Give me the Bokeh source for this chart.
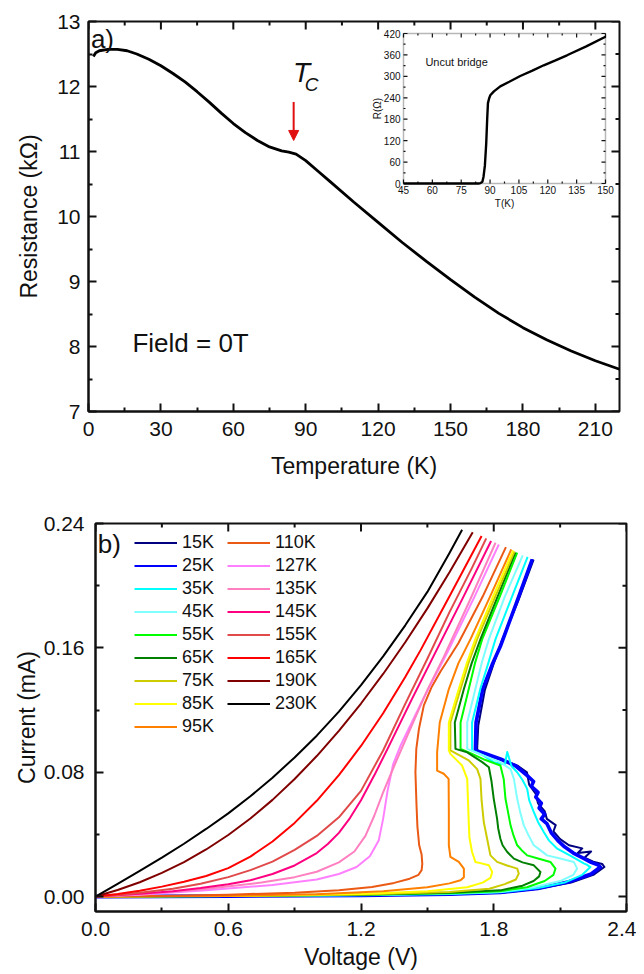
import math
from bokeh.plotting import figure
from bokeh.models import (FixedTicker, Range1d, Legend, LegendItem, Label, Arrow,
                          NormalHead, PrintfTickFormatter, BoxAnnotation)
from bokeh.embed import file_html
from bokeh.resources import INLINE
from bokeh.core.properties import value

FONT = "Liberation Sans"
RED = "#E01010"
INK = "#111111"

# ---------------- panel a data ----------------
T_main = [2.0, 3.0, 4.5, 8, 12, 16, 20, 25, 30, 35, 40, 45, 50, 55, 60, 65, 70, 75,
          80, 83, 86, 90, 95, 100, 110, 120, 130, 140, 150, 160, 170, 180, 190, 200,
          210, 220]
R_main = [12.46, 12.52, 12.55, 12.57, 12.57, 12.55, 12.50, 12.42, 12.32, 12.20, 12.07,
          11.92, 11.76, 11.59, 11.43, 11.29, 11.17, 11.07, 11.01, 10.99, 10.96, 10.86,
          10.70, 10.54, 10.22, 9.91, 9.60, 9.31, 9.03, 8.76, 8.51, 8.29, 8.10, 7.93,
          7.78, 7.65]
Tc_value = 85.0

T_inset = [45, 60, 75, 84, 85, 86, 86.6, 87.3, 88, 88.5, 88.9, 89.5, 90.1, 92, 95.3,
           100, 105.7, 112, 117.9, 124, 130, 140, 150]
R_inset = [0, 0, 0, 0, 1, 5, 19, 50, 112, 180, 225, 238, 247, 258, 272, 285, 301, 316,
           331, 345, 359, 384, 411]

a_xticks = [0, 30, 60, 90, 120, 150, 180, 210]
a_xminor = [15, 45, 75, 105, 135, 165, 195]
a_yticks = [7, 8, 9, 10, 11, 12, 13]
a_yminor = [7.5, 8.5, 9.5, 10.5, 11.5, 12.5]
in_xticks = [45, 60, 75, 90, 105, 120, 135, 150]
in_xminor = [52.5, 67.5, 82.5, 97.5, 112.5, 127.5, 142.5]
in_yticks = [0, 60, 120, 180, 240, 300, 360, 420]
in_yminor = [30, 90, 150, 210, 270, 330, 390]

# ---------------- panel b data ----------------
labels_b = ["15K", "25K", "35K", "45K", "55K", "65K", "75K", "85K", "95K",
            "110K", "127K", "135K", "145K", "155K", "165K", "190K", "230K"]
colors_b = ["#000080", "#0000FF", "#00FFFF", "#80FFFF", "#00FF00", "#008000",
            "#CCCC00", "#FFFF00", "#FF8000", "#EB5A14", "#FF80FF", "#FF80C0",
            "#FF0080", "#E04A4A", "#FF0000", "#800000", "#000000"]

V_15 = [0, 0.6, 1.2, 1.6, 1.83, 2.0, 2.15, 2.25, 2.30, 2.29, 2.25, 2.21, 2.24, 2.18,
        2.20, 2.14, 2.10, 2.07, 2.08, 2.04, 2.03, 2.00, 1.99, 1.96, 1.95, 1.91, 1.86,
        1.79, 1.73, 1.725, 1.73, 1.76, 1.80, 1.84, 1.91, 1.98]
I_15 = [0, 0.0003, 0.0008, 0.0015, 0.0025, 0.005, 0.009, 0.014, 0.019, 0.021, 0.0225,
        0.025, 0.029, 0.028, 0.031, 0.033, 0.037, 0.042, 0.046, 0.050, 0.055, 0.060,
        0.066, 0.072, 0.080, 0.084, 0.087, 0.090, 0.093, 0.095, 0.110, 0.133, 0.150,
        0.166, 0.190, 0.2167]
V_25 = [0, 0.6, 1.2, 1.6, 1.83, 2.0, 2.14, 2.24, 2.282, 2.27, 2.24, 2.20, 2.16, 2.12,
        2.09, 2.06, 2.04, 2.015, 2.03, 2.005, 2.015, 1.99, 2.0, 1.97, 1.98, 1.95, 1.90,
        1.83, 1.76, 1.717, 1.72, 1.75, 1.795, 1.83, 1.90, 1.974]
I_25 = [0, 0.0003, 0.0008, 0.0015, 0.0026, 0.0052, 0.0095, 0.0145, 0.019, 0.0205, 0.022,
        0.025, 0.028, 0.032, 0.036, 0.041, 0.047, 0.050, 0.053, 0.057, 0.060, 0.064,
        0.067, 0.071, 0.074, 0.078, 0.084, 0.0885, 0.092, 0.094, 0.112, 0.1335, 0.150,
        0.161, 0.188, 0.217]
V_35 = [0, 0.6, 1.2, 1.6, 1.83, 2.0, 2.12, 2.2, 2.237, 2.22, 2.207, 2.15, 2.087, 2.05,
        2.026, 2.0, 1.981, 1.96, 1.951, 1.93, 1.906, 1.88, 1.861, 1.85, 1.80, 1.75,
        1.702, 1.702, 1.74, 1.775, 1.808, 1.88, 1.953]
I_35 = [0, 0.0003, 0.0009, 0.0017, 0.0028, 0.0055, 0.009, 0.014, 0.019, 0.0205, 0.0214,
        0.026, 0.0308, 0.036, 0.0416, 0.048, 0.0544, 0.062, 0.0693, 0.075, 0.080, 0.084,
        0.093, 0.085, 0.0865, 0.091, 0.094, 0.112, 0.134, 0.150, 0.1656, 0.192, 0.2186]
V_45 = [0, 0.6, 1.2, 1.6, 1.83, 1.98, 2.1, 2.16, 2.177, 2.162, 2.10, 2.041, 2.0, 1.981,
        1.955, 1.936, 1.92, 1.906, 1.891, 1.876, 1.83, 1.75, 1.68, 1.68, 1.717, 1.745,
        1.778, 1.85, 1.931]
I_45 = [0, 0.0003, 0.001, 0.002, 0.003, 0.006, 0.010, 0.014, 0.018, 0.0223, 0.0245,
        0.0265, 0.031, 0.033, 0.040, 0.0458, 0.054, 0.0629, 0.0757, 0.082, 0.0865, 0.091,
        0.095, 0.112, 0.1335, 0.150, 0.1656, 0.193, 0.2195]
V_55 = [0, 0.6, 1.2, 1.6, 1.83, 1.95, 2.03, 2.07, 2.079, 2.056, 2.0, 1.951, 1.925, 1.906,
        1.89, 1.876, 1.865, 1.853, 1.845, 1.83, 1.76, 1.70, 1.65, 1.65, 1.687, 1.715,
        1.748, 1.83, 1.906]
I_55 = [0, 0.0004, 0.0011, 0.0022, 0.0035, 0.006, 0.010, 0.014, 0.018, 0.0223, 0.0245,
        0.0265, 0.030, 0.033, 0.039, 0.0458, 0.054, 0.0629, 0.0757, 0.0843, 0.088, 0.092,
        0.095, 0.112, 0.1335, 0.150, 0.1656, 0.194, 0.2212]
V_65 = [0, 0.6, 1.2, 1.6, 1.83, 1.93, 1.98, 2.005, 2.011, 1.981, 1.93, 1.891, 1.861,
        1.84, 1.83, 1.82, 1.815, 1.80, 1.79, 1.778, 1.748, 1.68, 1.627, 1.624, 1.665,
        1.70, 1.74, 1.82, 1.898]
I_65 = [0, 0.0004, 0.0012, 0.0025, 0.004, 0.007, 0.010, 0.013, 0.0158, 0.0201, 0.022,
        0.0244, 0.0287, 0.033, 0.0372, 0.044, 0.0501, 0.0629, 0.074, 0.0832, 0.0865,
        0.0928, 0.095, 0.112, 0.1335, 0.150, 0.1656, 0.194, 0.2214]
V_75 = [0, 0.6, 1.2, 1.6, 1.78, 1.85, 1.9, 1.913, 1.906, 1.86, 1.815, 1.785, 1.77, 1.755,
        1.745, 1.74, 1.725, 1.687, 1.604, 1.604, 1.65, 1.685, 1.725, 1.81, 1.894]
I_75 = [0, 0.0004, 0.0013, 0.003, 0.005, 0.008, 0.011, 0.0148, 0.018, 0.020, 0.0223,
        0.0265, 0.0372, 0.0479, 0.062, 0.0757, 0.082, 0.0876, 0.094, 0.112, 0.1335,
        0.150, 0.1656, 0.194, 0.222]
V_85 = [0, 0.6, 1.2, 1.5, 1.68, 1.75, 1.785, 1.793, 1.778, 1.74, 1.717, 1.702, 1.69,
        1.687, 1.68, 1.657, 1.604, 1.597, 1.597, 1.642, 1.678, 1.717, 1.80, 1.888]
I_85 = [0, 0.0005, 0.0016, 0.0035, 0.006, 0.009, 0.012, 0.0158, 0.0201, 0.0215, 0.0223,
        0.0287, 0.038, 0.0479, 0.0757, 0.0843, 0.0918, 0.094, 0.112, 0.1335, 0.150,
        0.1656, 0.194, 0.2227]
V_95 = [0, 0.6, 1.0, 1.3, 1.5, 1.6, 1.65, 1.665, 1.665, 1.642, 1.604, 1.597, 1.597,
        1.596, 1.574, 1.544, 1.544, 1.556, 1.597, 1.64, 1.695, 1.79, 1.879]
I_95 = [0, 0.0005, 0.0015, 0.0035, 0.006, 0.0085, 0.0105, 0.0125, 0.018, 0.0223, 0.0255,
        0.033, 0.055, 0.0757, 0.079, 0.081, 0.0928, 0.112, 0.1335, 0.150, 0.1656, 0.195,
        0.2233]
V_110 = [0, 0.3, 0.6, 0.9, 1.1, 1.25, 1.35, 1.42, 1.46, 1.474, 1.477, 1.474, 1.463,
         1.455, 1.451, 1.446, 1.45, 1.462, 1.484, 1.52, 1.56, 1.64, 1.75, 1.855]
I_110 = [0, 0.0004, 0.0012, 0.0025, 0.004, 0.0062, 0.0088, 0.0115, 0.014, 0.017, 0.021,
         0.027, 0.033, 0.045, 0.0586, 0.080, 0.095, 0.108, 0.123, 0.135, 0.145, 0.163,
         0.193, 0.2248]
V_127 = [0, 0.2, 0.5, 0.8, 1.0, 1.1, 1.18, 1.24, 1.28, 1.30, 1.32, 1.345, 1.3785, 1.47,
         1.59, 1.71, 1.823]
I_127 = [0, 0.0012, 0.004, 0.0075, 0.011, 0.0145, 0.019, 0.026, 0.036, 0.05, 0.068,
         0.085, 0.097, 0.124, 0.157, 0.192, 0.2265]
V_135 = [0, 0.2, 0.475, 0.75, 0.9, 1.0, 1.1, 1.17, 1.22, 1.26, 1.3, 1.35, 1.42, 1.5,
         1.567, 1.69, 1.808]
I_135 = [0, 0.0015, 0.0045, 0.009, 0.0125, 0.016, 0.022, 0.029, 0.039, 0.052, 0.067,
         0.084, 0.107, 0.133, 0.152, 0.19, 0.2276]
V_145 = [0, 0.2, 0.35, 0.475, 0.6, 0.7, 0.8, 0.9, 1.0, 1.05, 1.1, 1.15, 1.2, 1.26, 1.32,
         1.43, 1.529, 1.66, 1.788]
I_145 = [0, 0.0018, 0.0035, 0.0055, 0.008, 0.0105, 0.0145, 0.020, 0.028, 0.0338, 0.041,
         0.0505, 0.062, 0.078, 0.095, 0.127, 0.155, 0.192, 0.2287]
V_155 = [0, 0.1, 0.2, 0.35, 0.475, 0.6, 0.7, 0.8, 0.9, 1.0, 1.1, 1.2, 1.3, 1.4, 1.5, 1.6,
         1.7, 1.766]
I_155 = [0, 0.001, 0.0025, 0.005, 0.0083, 0.0125, 0.017, 0.0225, 0.030, 0.039, 0.051,
         0.068, 0.094, 0.124, 0.153, 0.183, 0.211, 0.2304]
V_165 = [0, 0.1, 0.2, 0.3, 0.4, 0.5, 0.6, 0.7, 0.8, 0.9, 1.0, 1.1, 1.2, 1.3, 1.4, 1.47,
         1.6, 1.745]
I_165 = [0, 0.0017, 0.0038, 0.0064, 0.0095, 0.0132, 0.0183, 0.0257, 0.0354, 0.0474,
         0.0616, 0.0781, 0.0969, 0.1179, 0.1412, 0.1587, 0.1932, 0.232]
V_190 = [0, 0.1, 0.2, 0.3, 0.4, 0.5, 0.6, 0.7, 0.8, 0.9, 1.0, 1.1, 1.2, 1.3, 1.4, 1.5,
         1.6, 1.705]
I_190 = [0, 0.0042, 0.0092, 0.0152, 0.0222, 0.0303, 0.0396, 0.0502, 0.0622, 0.0756,
         0.0904, 0.1066, 0.1242, 0.1432, 0.1636, 0.1854, 0.2086, 0.2343]
V_230 = [0, 0.1, 0.2, 0.3, 0.4, 0.5, 0.6, 0.7, 0.8, 0.9, 1.0, 1.1, 1.2, 1.3, 1.4, 1.5,
         1.6, 1.657]
I_230 = [0, 0.0082, 0.0165, 0.025, 0.034, 0.0435, 0.0535, 0.0645, 0.0765, 0.0895,
         0.1035, 0.119, 0.136, 0.1545, 0.1745, 0.196, 0.221, 0.236]

V_all = [V_15, V_25, V_35, V_45, V_55, V_65, V_75, V_85, V_95, V_110, V_127, V_135,
         V_145, V_155, V_165, V_190, V_230]
I_all = [I_15, I_25, I_35, I_45, I_55, I_65, I_75, I_85, I_95, I_110, I_127, I_135,
         I_145, I_155, I_165, I_190, I_230]

b_xticks = [0.0, 0.6, 1.2, 1.8, 2.4]
b_xminor = [0.3, 0.9, 1.5, 2.1]
b_yticks = [0.0, 0.08, 0.16, 0.24]
b_yminor = [0.04, 0.12, 0.20]


def style_axis(ax, ticks, minor, fmt, tick_size="21px", label_size="23px",
               label_standoff=8, axis_label_standoff=10):
    ax.ticker = FixedTicker(ticks=ticks, minor_ticks=minor)
    ax.formatter = PrintfTickFormatter(format=fmt)
    ax.major_tick_in = 8
    ax.major_tick_out = 0
    ax.minor_tick_in = 4
    ax.minor_tick_out = 0
    ax.major_tick_line_width = 2
    ax.minor_tick_line_width = 2
    ax.axis_line_width = 2
    ax.axis_line_color = INK
    ax.major_tick_line_color = INK
    ax.minor_tick_line_color = INK
    ax.major_label_text_font = FONT
    ax.major_label_text_color = INK
    ax.major_label_text_font_size = tick_size
    ax.major_label_standoff = label_standoff
    ax.axis_label_text_font = FONT
    ax.axis_label_text_font_style = "normal"
    ax.axis_label_text_color = INK
    ax.axis_label_text_font_size = label_size
    ax.axis_label_standoff = axis_label_standoff


def mirror_ticks(p, xt, xm, yt, ym, xr, yr, big=8, small=4, lw=2, **kw):
    """inward ticks on the top and right frame edges"""
    p.ray(x=xt, y=[yr[1]] * len(xt), length=big, length_units="screen",
          angle=-math.pi / 2, line_color=INK, line_width=lw, **kw)
    p.ray(x=xm, y=[yr[1]] * len(xm), length=small, length_units="screen",
          angle=-math.pi / 2, line_color=INK, line_width=lw, **kw)
    p.ray(x=[xr[1]] * len(yt), y=yt, length=big, length_units="screen",
          angle=math.pi, line_color=INK, line_width=lw, **kw)
    p.ray(x=[xr[1]] * len(ym), y=ym, length=small, length_units="screen",
          angle=math.pi, line_color=INK, line_width=lw, **kw)


# ---------------- panel a ----------------
A_X = (0, 220)
A_Y = (7, 13)
p1 = figure(width=636, height=489, x_range=Range1d(*A_X), y_range=Range1d(*A_Y),
            output_backend="svg", toolbar_location=None,
            min_border_left=88, min_border_right=17, min_border_top=21,
            min_border_bottom=78, x_axis_label="Temperature (K)",
            y_axis_label="Resistance (kΩ)")
p1.grid.visible = False
p1.outline_line_color = INK
p1.outline_line_width = 2
style_axis(p1.xaxis[0], a_xticks, a_xminor, "%d", label_standoff=10, axis_label_standoff=14)
style_axis(p1.yaxis[0], a_yticks, a_yminor, "%d", label_standoff=8, axis_label_standoff=12)
mirror_ticks(p1, a_xticks, a_xminor, a_yticks, a_yminor, A_X, A_Y)

p1.line(T_main, R_main, line_color="black", line_width=2.8)

p1.add_layout(Arrow(end=NormalHead(size=10, fill_color=RED, line_color=RED, line_width=1),
                    x_start=Tc_value, y_start=11.76, x_end=Tc_value, y_end=11.17,
                    line_color=RED, line_width=2))
p1.add_layout(Label(x=Tc_value - 0.3, y=12.215, text="T", text_font=FONT,
                    text_font_style="italic", text_font_size="28px",
                    text_baseline="middle", text_color=INK))
p1.add_layout(Label(x=Tc_value + 4.6, y=12.03, text="C", text_font=FONT,
                    text_font_style="italic", text_font_size="19px",
                    text_baseline="middle", text_color=INK))
p1.add_layout(Label(x=1.0, y=12.96, text="a)", text_font=FONT, text_font_size="26px",
                    text_baseline="top", text_color=INK))
p1.add_layout(Label(x=18.2, y=8.05, text="Field = 0T", text_font=FONT,
                    text_font_size="26px", text_baseline="middle", text_color=INK))

# ---------------- inset (drawn in panel a on its own scales) ----------------
p1.extra_x_ranges = {"ins": Range1d(-118.74, 157.28)}
p1.extra_y_ranges = {"ins": Range1d(-638.4, 453.6)}
IN = dict(x_range_name="ins", y_range_name="ins")
p1.add_layout(BoxAnnotation(left=in_xticks[0], right=in_xticks[-1], bottom=in_yticks[0],
                            top=in_yticks[-1], fill_color="white", fill_alpha=1.0,
                            line_color=INK, line_width=1.5, level="underlay", **IN))
n_x, n_y = len(in_xticks), len(in_yticks)
x0, x1 = in_xticks[0], in_xticks[-1]
y0, y1 = in_yticks[0], in_yticks[-1]
for xs, ln in ((in_xticks, 4), (in_xminor, 2)):
    p1.ray(x=xs, y=[y0] * len(xs), length=ln, length_units="screen", angle=math.pi / 2,
           line_color=INK, line_width=1.2, **IN)
    p1.ray(x=xs, y=[y1] * len(xs), length=ln, length_units="screen", angle=-math.pi / 2,
           line_color=INK, line_width=1.2, **IN)
for ys, ln in ((in_yticks, 4), (in_yminor, 2)):
    p1.ray(x=[x0] * len(ys), y=ys, length=ln, length_units="screen", angle=0,
           line_color=INK, line_width=1.2, **IN)
    p1.ray(x=[x1] * len(ys), y=ys, length=ln, length_units="screen", angle=math.pi,
           line_color=INK, line_width=1.2, **IN)
p1.text(x=in_xticks, y=[y0] * n_x, text=[str(t) for t in in_xticks], y_offset=2,
        text_align="center", text_baseline="top", text_font=value(FONT),
        text_font_size="10px", text_color=INK, **IN)
p1.text(x=[x0] * n_y, y=in_yticks, text=[str(t) for t in in_yticks], x_offset=-3,
        text_align="right", text_baseline="middle", text_font=value(FONT),
        text_font_size="10px", text_color=INK, **IN)
p1.text(x=[(x0 + x1) / 2], y=[y0], text=["T(K)"], y_offset=14, text_align="center",
        text_baseline="top", text_font=value(FONT), text_font_size="10px",
        text_color=INK, **IN)
p1.text(x=[x0], y=[(y0 + y1) / 2], text=["R(Ω)"], x_offset=-26, angle=math.pi / 2,
        text_align="center", text_baseline="middle", text_font=value(FONT),
        text_font_size="10px", text_color=INK, **IN)
p1.text(x=[56.4], y=[339], text=["Uncut bridge"], text_align="left",
        text_baseline="middle", text_font=value(FONT), text_font_size="11px",
        text_color=INK, **IN)
p1.line(T_inset, R_inset, line_color="black", line_width=2.4, **IN)

# ---------------- panel b ----------------
B_X = (0, 2.4)
B_Y = (-0.0096, 0.24)
H2, TOP2, BOT2 = 485, 34, 63
FH2 = H2 - TOP2 - BOT2
p2 = figure(width=636, height=H2, x_range=Range1d(*B_X), y_range=Range1d(*B_Y),
            output_backend="svg", toolbar_location=None, min_border_left=95,
            min_border_right=10, min_border_top=TOP2, min_border_bottom=BOT2,
            x_axis_label="Voltage (V)", y_axis_label="Current (mA)")
p2.grid.visible = False
p2.outline_line_color = INK
p2.outline_line_width = 2
style_axis(p2.xaxis[0], b_xticks, b_xminor, "%.1f", label_standoff=10,
           axis_label_standoff=5)
style_axis(p2.yaxis[0], b_yticks, b_yminor, "%.2f", label_standoff=11,
           axis_label_standoff=1)
mirror_ticks(p2, b_xticks, b_xminor, b_yticks, b_yminor, B_X, B_Y)

items = []
for lab, col, vv, ii in zip(labels_b, colors_b, V_all, I_all):
    if lab == "25K":
        p2.line(vv, ii, line_color=col, line_width=3.6, line_join="round")
    r = p2.line(vv, ii, line_color=col, line_width=2.0, line_join="round")
    items.append(LegendItem(label=lab, renderers=[r]))

leg_kw = dict(label_text_font=FONT, label_text_font_size="18px",
              label_text_color=INK, glyph_width=43, glyph_height=23,
              label_height=23, spacing=0, padding=0, margin=0, label_standoff=5,
              border_line_alpha=0, background_fill_alpha=0)
leg1 = Legend(items=items[:9], location=(39, FH2 - 7.5 - 207), **leg_kw)
leg2 = Legend(items=items[9:], location=(132, FH2 - 7.5 - 184), **leg_kw)
p2.add_layout(leg1)
p2.add_layout(leg2)
p2.add_layout(Label(x=0.01, y=0.2365, text="b)", text_font=FONT, text_font_size="26px",
                    text_baseline="top", text_color=INK))

# two independent roots, stacked, so each frame keeps its own left edge
open("out.html", "w").write(file_html([p1, p2], INLINE))
